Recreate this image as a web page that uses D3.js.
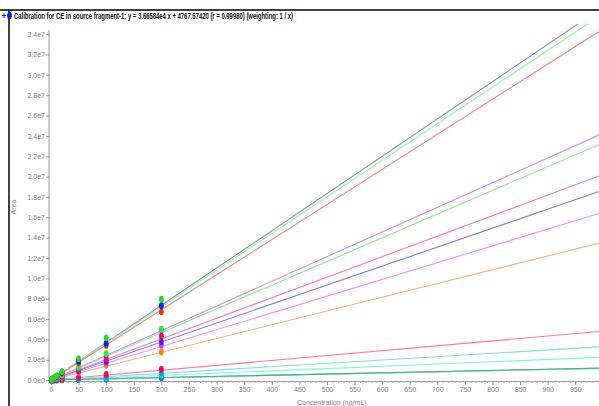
<!DOCTYPE html>
<html><head><meta charset="utf-8">
<script src="https://cdn.jsdelivr.net/npm/d3@7"></script>
<style>body{margin:0;background:#fff;overflow:hidden}svg{display:block}</style>
</head><body><svg id="c" width="599" height="406"></svg>
<script>
const concentrations = [1, 2, 5, 10, 20, 50, 100, 200];
const seriesNames = ["s1","s2","s3","s4","s5","s6","s7","s8","s9","s10","s11","s12","s13","s14","s15"];
const slopes = [36658.4, 36000, 34500, 24250, 23300, 20200, 18660, 16480, 13550, 4800, 3280, 2240, 1160, 1120, 1180];
const intercepts = [4767.6, 0, 0, 0, 0, 0, 0, 0, 0, 0, 0, 0, 0, 0, 0];
const lineColors = ["#8080ff","#88ff88","#ff8080","#cc88ff","#88ee88","#ff77bb","#7f77ee","#ff88ff","#ffb077","#ff7799","#88d4ff","#77ffcc","#66a0ff","#b0ee66","#44aaaa"];
const markerColors = ["#0022ff","#22dd22","#ff3300","#cc33ff","#22ee44","#ff0077","#4422ff","#ff22ff","#ff8800","#ff0044","#0099ff","#00ee99","#0066ff","#88dd22","#009999"];
const pointValues = [
  [4.2e4, 7.8e4, 1.9e5, 3.7e5, 7.6e5, 1.85e6, 3.62e6, 7.3e6],
  [4.0e4, 8.2e4, 2.0e5, 4.0e5, 8.2e5, 2.1e6, 4.15e6, 7.95e6],
  [3.6e4, 7.0e4, 1.75e5, 3.5e5, 7.0e5, 1.7e6, 3.4e6, 6.7e6],
  [2.5e4, 5.0e4, 1.25e5, 2.4e5, 4.9e5, 1.22e6, 2.45e6, 4.9e6],
  [2.4e4, 4.8e4, 1.2e5, 2.4e5, 4.8e5, 1.25e6, 2.6e6, 5.0e6],
  [2.0e4, 4.0e4, 1.0e5, 2.0e5, 4.1e5, 1.0e6, 2.1e6, 4.3e6],
  [1.9e4, 3.7e4, 9.3e4, 1.9e5, 3.7e5, 9.3e5, 1.85e6, 3.75e6],
  [1.65e4, 3.3e4, 8.2e4, 1.65e5, 3.3e5, 8.3e5, 1.65e6, 3.4e6],
  [1.4e4, 2.7e4, 6.8e4, 1.35e5, 2.7e5, 7.5e5, 1.45e6, 2.75e6],
  [5.0e3, 1.0e4, 2.4e4, 4.8e4, 9.6e4, 2.4e5, 5.5e5, 1.05e6],
  [3.3e3, 6.6e3, 1.6e4, 3.3e4, 6.6e4, 1.65e5, 3.4e5, 7.0e5],
  [2.2e3, 4.5e3, 1.1e4, 2.2e4, 4.5e4, 1.1e5, 2.3e5, 4.6e5],
  [1.2e3, 2.3e3, 5.8e3, 1.2e4, 2.3e4, 5.8e4, 1.2e5, 2.4e5],
  [1.1e3, 2.2e3, 5.6e3, 1.1e4, 2.2e4, 5.6e4, 1.1e5, 2.3e5],
  [1.2e3, 2.4e3, 6.0e3, 1.2e4, 2.4e4, 6.0e4, 1.15e5, 2.5e5]
];
const yTicks = [0,2e6,4e6,6e6,8e6,1e7,1.2e7,1.4e7,1.6e7,1.8e7,2e7,2.2e7,2.4e7,2.6e7,2.8e7,3e7,3.2e7,3.4e7];
const yTickLabels = ["0.0e0","2.0e6","4.0e6","6.0e6","8.0e6","1.0e7","1.2e7","1.4e7","1.6e7","1.8e7","2.0e7","2.2e7","2.4e7","2.6e7","2.8e7","3.0e7","3.2e7","3.4e7"];
const xMajorTicks = [0,50,100,150,200,250,300,350,400,450,500,550,600,650,700,750,800,850,900,950];
const titleText = "Calibration for CE in source fragment-1: y = 3.66584e4 x + 4767.57420 (r = 0.99980) (weighting: 1 / x)";
const xLabel = "Concentration (ng/mL)";
const yLabel = "Area";

const svg = d3.select("#c");
const font = "'Liberation Sans Narrow','Liberation Sans',Arial,sans-serif";
const x = d3.scaleLinear().domain([0, 993]).range([51, 599]);
const y = d3.scaleLinear().domain([0, 3.5e7]).range([380, 24]);

// frame lines
svg.append("line").attr("x1",0).attr("x2",599).attr("y1",10).attr("y2",10).attr("stroke","#000").attr("stroke-width",1.5);
svg.append("line").attr("x1",9).attr("x2",9).attr("y1",10).attr("y2",406).attr("stroke","#000").attr("stroke-width",1.5);

// title
svg.append("text").attr("x",1.5).attr("y",18.5).attr("font-family",font).attr("font-size",8.5).attr("font-weight","bold").attr("fill","#222").text("+");
svg.append("ellipse").attr("cx",9.5).attr("cy",15.5).attr("rx",2.4).attr("ry",3.6).attr("fill","#0022ff");
svg.append("text").attr("x",14).attr("y",18.5).attr("font-family",font).attr("font-size",8.5).attr("font-weight","bold").attr("fill","#111")
  .attr("textLength",279).attr("lengthAdjust","spacingAndGlyphs").text(titleText);

// y axis
const yAxis = d3.axisLeft(y).tickValues(yTicks).tickFormat((d,i)=>yTickLabels[i]).tickSize(3).tickSizeOuter(0);
const gy = svg.append("g").attr("transform","translate(49,0)").call(yAxis);
gy.select(".domain").attr("stroke","#999").attr("d","M0,30V381");
gy.selectAll(".tick line").attr("stroke","#999");
gy.selectAll(".tick text").attr("fill","#808080").attr("font-family",font).attr("font-size",7).attr("x",-4);

// x axis
const xMinor = d3.range(0, 991, 10);
const gxm = svg.append("g").attr("transform","translate(0,381)").call(d3.axisBottom(x).tickValues(xMinor).tickFormat("").tickSize(2).tickSizeOuter(0));
gxm.select(".domain").attr("stroke","#999");
gxm.selectAll(".tick line").attr("stroke","#aaa");
const gx = svg.append("g").attr("transform","translate(0,381)").call(d3.axisBottom(x).tickValues(xMajorTicks).tickSize(4).tickSizeOuter(0));
gx.select(".domain").remove();
gx.selectAll(".tick line").attr("stroke","#999");
gx.selectAll(".tick text").attr("fill","#808080").attr("font-family",font).attr("font-size",7).attr("y",6);

// axis labels
svg.append("text").attr("x",297).attr("y",405).attr("font-family",font).attr("font-size",7).attr("fill","#808080").text(xLabel);
svg.append("text").attr("transform","translate(16,207) rotate(-90)").attr("text-anchor","middle").attr("font-family",font).attr("font-size",7).attr("fill","#808080").text(yLabel);

// clip
svg.append("clipPath").attr("id","clip").append("rect").attr("x",51).attr("y",24).attr("width",548).attr("height",358);
const plot = svg.append("g").attr("clip-path","url(#clip)");

const lineGen = d3.line().x(d=>x(d[0])).y(d=>y(d[1]));
seriesNames.forEach((n,i)=>{
  const pts = [[0, intercepts[i]], [993, intercepts[i] + slopes[i]*993]];
  plot.append("path").attr("d", lineGen(pts)).attr("fill","none").attr("stroke",lineColors[i]).attr("stroke-width",1.1);
});

// markers: draw lower series first, top group last
const order = [14,13,12,11,10,9,8,7,6,3,5,4,2,0,1];
const mk = svg.append("g");
order.forEach(i=>{
  mk.selectAll(null).data(concentrations.map((c,j)=>[c, pointValues[i][j]])).enter()
    .append("ellipse").attr("cx",d=>x(d[0])).attr("cy",d=>y(d[1])).attr("rx",2.4).attr("ry",3.4).attr("fill",markerColors[i]);
});
</script></body></html>
